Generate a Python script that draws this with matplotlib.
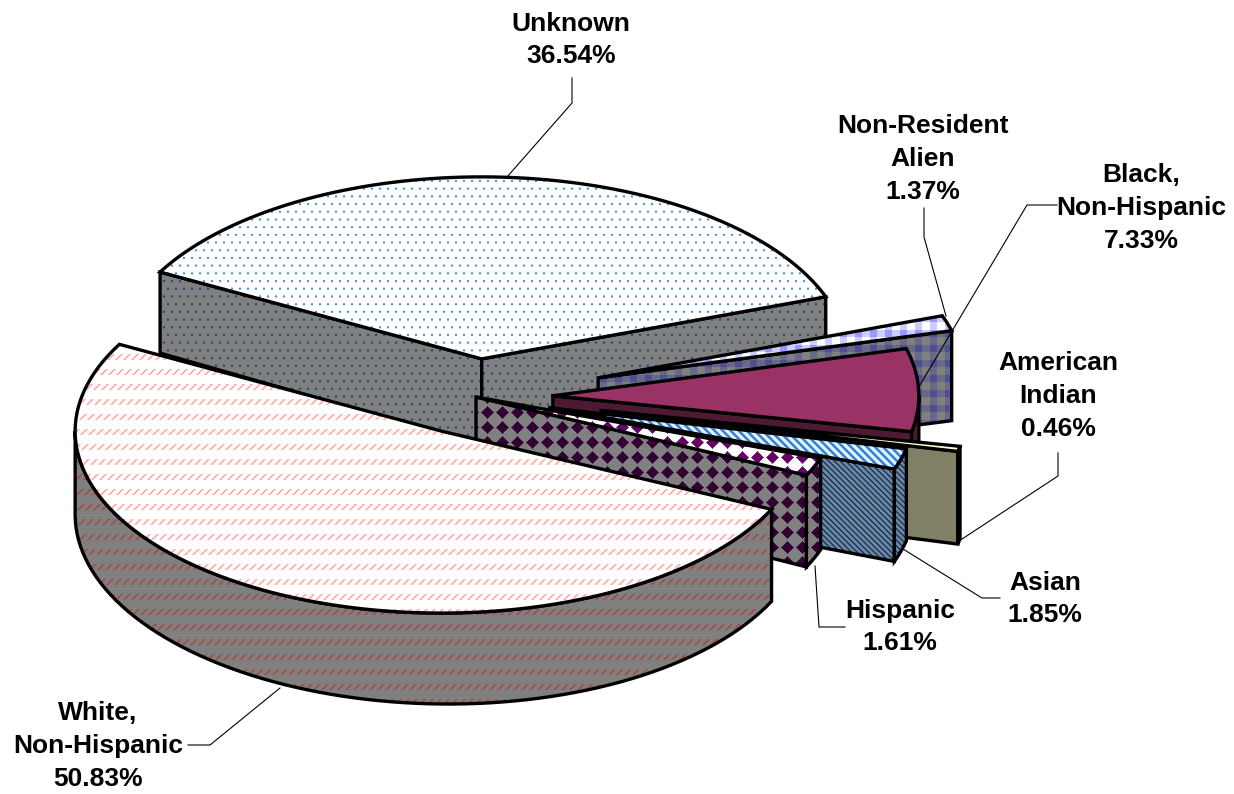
import numpy as np
import matplotlib
matplotlib.use('Agg')
import matplotlib.pyplot as plt
from matplotlib.colors import to_rgb
from matplotlib.patches import Polygon

# data
categories = ['Unknown', 'Non-Resident Alien', 'Black, Non-Hispanic', 'American Indian',
              'Asian', 'Hispanic', 'White, Non-Hispanic']
percents = [36.54, 1.37, 7.33, 0.46, 1.85, 1.61, 50.83]
label_lines = [['Unknown'], ['Non-Resident', 'Alien'], ['Black,', 'Non-Hispanic'],
               ['American', 'Indian'], ['Asian'], ['Hispanic'], ['White,', 'Non-Hispanic']]

# pie layout, pixels
W, H = 1234, 794
CX, CY = 476, 397
RX, RY = 366, 182
START_ANGLE = 151.5
explode = [0.21, 0.35, 0.21, 0.35, 0.21, 0.0, 0.21]

# label centre and leader line of each slice
label_pos = [(571, 40), (923, 159), (1141, 208), (1058, 396), (1045, 599), (900, 627), (98, 746)]
leaders = [
    [(572, 78), (572, 103), (507, 177)],
    [(924, 208), (924, 237), (946, 316)],
    [(1057, 205), (1027, 205), (917, 390)],
    [(1058, 453), (1058, 476), (959, 541)],
    [(1000, 598), (982, 598), (903, 549)],
    [(845, 627), (819, 627), (815, 566)],
    [(188, 745), (210, 745), (280, 688)],
]

yy, xx = np.mgrid[0:H, 0:W] + 0.5


def soft(d, r):
    return np.clip(r - d + 0.5, 0, 1)


def mask_dots():
    row = np.floor(yy / 7.7)
    dx = (xx + 4 * (row % 2)) % 8 - 4
    dy = yy % 7.7 - 3.85
    return soft(np.hypot(dx, dy), 1.15)


def mask_dashes():
    band = soft(np.abs((yy - 4.5) % 15 - 7.5), 3.0)
    diag = soft(np.abs((xx + yy) % 8 - 4), 1.3)
    return band * diag


def mask_plaid():
    u = (xx % 15) < 7.5
    v = (yy % 15) < 7.5
    m = np.zeros(xx.shape)
    m[u & v] = 1.0
    m[u ^ v] = 0.5
    return m


def mask_stripes(period, width):
    return soft(np.abs((xx - yy) % period - period / 2), width)


def mask_diamonds():
    d = np.abs((xx % 15) - 7.5) + np.abs((yy % 15) - 7.5)
    return soft(d, 6.3)


def tile(mask, fg, bg):
    fg = np.array(to_rgb(fg))
    bg = np.array(to_rgb(bg))
    return mask[..., None] * fg + (1 - mask[..., None]) * bg


# top face and wall fill of each slice
m_dots, m_plaid, m_diamonds, m_dashes = mask_dots(), mask_plaid(), mask_diamonds(), mask_dashes()
top_fills = [
    tile(m_dots, '#4a94dc', '#ffffff'),
    tile(m_plaid, '#9999ff', '#ffffff'),
    '#993366',
    '#ffffcc',
    tile(mask_stripes(8, 1.8), '#3a80d0', '#e0f5ff'),
    tile(m_diamonds, '#660066', '#ffffff'),
    tile(m_dashes, '#ffb0b0', '#ffffff'),
]
wall_fills = [
    tile(m_dots, '#1a4a80', '#808080'),
    tile(m_plaid, '#505090', '#808080'),
    '#4d1933',
    '#808066',
    tile(mask_stripes(5.7, 0.9), '#1a2a66', '#6a8a99'),
    tile(m_diamonds, '#330033', '#808080'),
    tile(m_dashes, '#a05050', '#808080'),
]

fig = plt.figure(figsize=(W / 100, H / 100), dpi=100)
ax = fig.add_axes([0, 0, 1, 1])


def drop(x, y):
    # wall height grows a little towards the viewer and the right side
    return 81 + 0.0098 * (x - 158) + 0.021 * (y - 272)


def face(pts, fill):
    if isinstance(fill, str):
        ax.add_patch(Polygon(pts, closed=True, facecolor=fill, edgecolor='black',
                             linewidth=2.4, joinstyle='miter', zorder=1))
        return
    patch = Polygon(pts, closed=True, facecolor='none', edgecolor='none', zorder=1)
    ax.add_patch(patch)
    im = ax.imshow(fill, extent=(0, W, H, 0), interpolation='nearest', aspect='auto', zorder=1)
    im.set_clip_path(patch)
    ax.add_patch(Polygon(pts, closed=True, facecolor='none', edgecolor='black',
                         linewidth=2.4, joinstyle='miter', zorder=1))


def wall(top):
    top = np.array(top)
    bottom = np.column_stack([top[:, 0], top[:, 1] + drop(top[:, 0], top[:, 1])])
    return np.vstack([top, bottom[::-1]])


# back slices first, each one paints over the one before
angle = START_ANGLE
for i, p in enumerate(percents):
    a0 = angle
    a1 = angle - p * 3.6
    angle = a1
    mid = np.radians((a0 + a1) / 2)
    ox = CX + explode[i] * RX * np.cos(mid)
    oy = CY - explode[i] * RY * np.sin(mid)
    apex = np.array([[ox, oy]])

    def rim(t):
        t = np.radians(np.atleast_1d(t))
        return np.column_stack([ox + RX * np.cos(t), oy - RY * np.sin(t)])

    if np.cos(np.radians(a0)) < 0:
        face(wall(np.vstack([rim(a0), apex])), wall_fills[i])
    if np.cos(np.radians(a1)) > 0:
        face(wall(np.vstack([apex, rim(a1)])), wall_fills[i])

    # outer wall only where the rim faces the viewer
    lo, hi = max(a1, -180), min(a0, 0)
    if hi > lo:
        face(wall(rim(np.linspace(hi, lo, 80))), wall_fills[i])

    face(np.vstack([apex, rim(np.linspace(a0, a1, 120))]), top_fills[i])

# text and leader lines
for i, (x, y) in enumerate(label_pos):
    text = '\n'.join(label_lines[i] + [f'{percents[i]:.2f}%'])
    ax.text(x, y, text, ha='center', va='center', family='Liberation Sans', fontweight='bold',
            fontsize=19, linespacing=1.46, color='black', zorder=20)
    pts = np.array(leaders[i])
    ax.plot(pts[:, 0], pts[:, 1], color='black', lw=0.8, zorder=19)

ax.set_xlim(0, W)
ax.set_ylim(H, 0)
ax.axis('off')
fig.savefig('out.png', dpi=100)
